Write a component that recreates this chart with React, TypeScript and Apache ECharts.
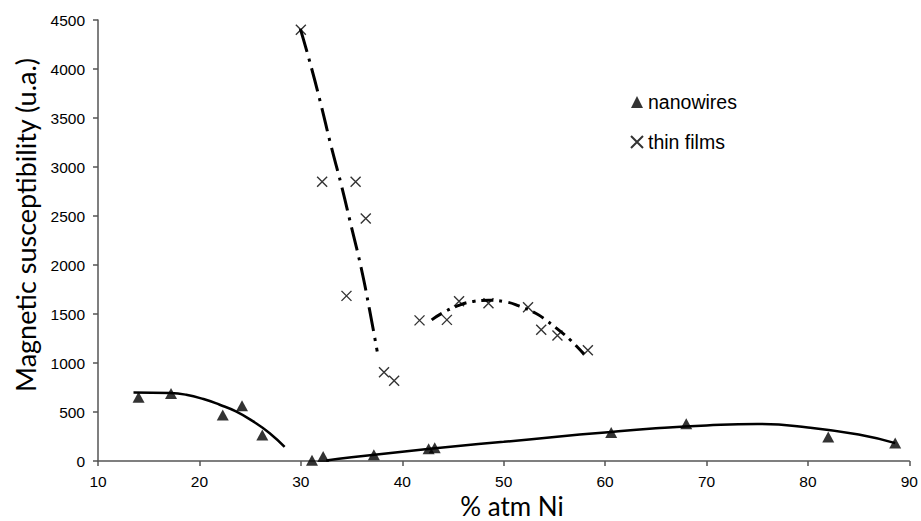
import React, { useEffect, useRef } from "react";
import * as echarts from "echarts";

// Measured data points
const nanowireX = [14.0, 17.2, 22.3, 24.2, 26.2, 31.1, 32.2, 37.2, 42.6, 43.2, 60.6, 68.0, 82.0, 88.6];
const nanowireY = [650, 690, 470, 565, 265, 8, 47, 65, 125, 135, 292, 380, 245, 184];

const thinFilmX = [30.0, 32.1, 35.4, 36.4, 34.5, 38.2, 39.2, 41.7, 44.4, 45.6, 48.5, 52.4, 53.7, 55.3, 58.3];
const thinFilmY = [4400, 2850, 2850, 2475, 1685, 905, 820, 1435, 1440, 1630, 1610, 1570, 1340, 1280, 1130];

// Trend lines
const nwTrendLowX = [13.5, 17.1, 18.7, 20.4, 22.0, 23.6, 25.3, 26.9, 28.4];
const nwTrendLowY = [700, 694, 676, 632, 574, 506, 404, 286, 143];

const nwTrendHighX = [32.5, 35, 40, 45, 50, 55, 60, 65, 70, 75, 80, 85, 88.6];
const nwTrendHighY = [5, 38, 95, 148, 196, 245, 292, 333, 363, 378, 343, 270, 182];

const tfTrendAX = [29.95, 30.87, 31.93, 32.93, 33.98, 34.97, 35.95, 36.77, 37.53];
const tfTrendAY = [4410, 4078, 3660, 3235, 2820, 2395, 1969, 1545, 1118];

const tfTrendBX = [42.9, 44.0, 45.5, 47.0, 48.5, 50.2, 51.5, 53.2, 54.2, 55.5, 56.6, 58.1];
const tfTrendBY = [1440, 1512, 1585, 1628, 1640, 1624, 1582, 1505, 1435, 1330, 1232, 1070];

const xTicks = { min: 10, max: 90, interval: 10 };
const yTicks = { min: 0, max: 4500, interval: 500 };

const xTitle = "% atm Ni";
const yTitle = "Magnetic susceptibility (u.a.)";

const zip = (xs: number[], ys: number[]) => xs.map((x, i) => [x, ys[i]]);

const CROSS = "path://M0,0L10,10M10,0L0,10";
const tickFont = "'Liberation Sans', Arial, sans-serif";
const titleFont = "Lato, 'Open Sans', sans-serif";

export default function App() {
  const ref = useRef<HTMLDivElement>(null);
  useEffect(() => {
    if (!ref.current) return;
    const chart = echarts.init(ref.current, null, { renderer: "svg" });
    const trendBase = {
      type: "line",
      smooth: true,
      showSymbol: false,
      silent: true,
      z: 2,
    };
    chart.setOption({
      animation: false,
      backgroundColor: "#ffffff",
      grid: { left: 98, right: 10, top: 20, bottom: 60 },
      legend: {
        orient: "vertical",
        left: 630,
        top: 92,
        padding: 0,
        itemWidth: 12,
        itemHeight: 12,
        itemGap: 20,
        textStyle: { fontSize: 19.5, color: "#000", fontFamily: tickFont },
        data: [
          { name: "nanowires", icon: "triangle" },
          { name: "thin films", icon: CROSS },
        ],
      },
      graphic: [
        {
          type: "text",
          x: 25,
          y: 225,
          rotation: Math.PI / 2,
          style: {
            text: yTitle,
            fontSize: 27,
            fontFamily: titleFont,
            fill: "#000",
            align: "center",
            verticalAlign: "middle",
          },
        },
        {
          type: "text",
          x: 512,
          y: 506,
          style: {
            text: xTitle,
            fontSize: 26,
            fontFamily: titleFont,
            fill: "#000",
            align: "center",
            verticalAlign: "middle",
          },
        },
      ],
      xAxis: {
        type: "value",
        min: xTicks.min,
        max: xTicks.max,
        interval: xTicks.interval,
        axisLine: { lineStyle: { color: "#555", width: 1.5 } },
        axisTick: { show: true, length: 5, lineStyle: { color: "#555", width: 1.5 } },
        axisLabel: {
          fontSize: 15.5,
          color: "#000",
          margin: 12,
          fontFamily: tickFont,
          formatter: (v: number) => String(v),
        },
        splitLine: { show: false },
      },
      yAxis: {
        type: "value",
        min: yTicks.min,
        max: yTicks.max,
        interval: yTicks.interval,
        axisLine: { show: true, lineStyle: { color: "#555", width: 1.5 } },
        axisTick: { show: true, length: 5, lineStyle: { color: "#555", width: 1.5 } },
        axisLabel: {
          fontSize: 15.5,
          color: "#000",
          margin: 13,
          fontFamily: tickFont,
          formatter: (v: number) => String(v),
        },
        splitLine: { show: false },
      },
      series: [
        {
          ...trendBase,
          name: "nwTrendLow",
          data: zip(nwTrendLowX, nwTrendLowY),
          lineStyle: { color: "#000", width: 2.5 },
        },
        {
          ...trendBase,
          name: "nwTrendHigh",
          data: zip(nwTrendHighX, nwTrendHighY),
          lineStyle: { color: "#000", width: 2.5 },
        },
        {
          ...trendBase,
          name: "tfTrendA",
          data: zip(tfTrendAX, tfTrendAY),
          lineStyle: { color: "#000", width: 3, type: [24, 7, 3, 7] },
        },
        {
          ...trendBase,
          name: "tfTrendB",
          data: zip(tfTrendBX, tfTrendBY),
          lineStyle: { color: "#000", width: 3, type: [12, 6, 3, 6] },
        },
        {
          name: "nanowires",
          type: "scatter",
          symbol: "triangle",
          symbolSize: [12, 11],
          itemStyle: { color: "#000" },
          data: zip(nanowireX, nanowireY),
          z: 3,
        },
        {
          name: "thin films",
          type: "scatter",
          symbol: CROSS,
          symbolSize: 10,
          itemStyle: { color: "rgba(0,0,0,0)", borderColor: "#000", borderWidth: 1.4 },
          data: zip(thinFilmX, thinFilmY),
          z: 3,
        },
      ],
    });
    return () => chart.dispose();
  }, []);
  return (
    <div
      ref={ref}
      style={{ position: "fixed", left: 0, top: 0, width: 921, height: 521, background: "#fff" }}
    />
  );
}
